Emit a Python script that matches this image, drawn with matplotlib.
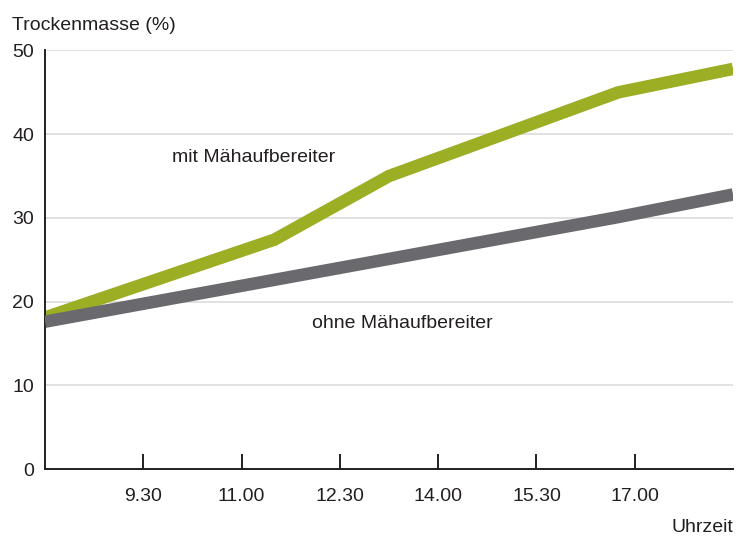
import matplotlib
matplotlib.use("Agg")
import matplotlib.pyplot as plt

# time of day in hours (9.30 -> 9.5)
hours_mit = [8.0, 11.5, 13.25, 16.75, 18.5]
mit = [18.1, 27.4, 35.0, 45.0, 47.8]

hours_ohne = [8.0, 11.5, 13.25, 16.75, 18.5]
ohne = [17.6, 22.6, 25.1, 30.1, 32.8]

tick_hours = [9.5, 11.0, 12.5, 14.0, 15.5, 17.0]
tick_labels = ["9.30", "11.00", "12.30", "14.00", "15.30", "17.00"]
y_ticks = [0, 10, 20, 30, 40, 50]

GREEN = "#9bae24"
GREY = "#6a6a6e"
TEXT = "#231f20"

plt.rcParams["font.family"] = ["Liberation Sans", "DejaVu Sans"]

fig = plt.figure(figsize=(7.48, 5.37), dpi=100)
ax = fig.add_axes([0.0602, 0.1266, 0.9198, 0.7794])

for y in y_ticks[1:]:
    ax.axhline(y, color="#dcdcdc", lw=1.2, zorder=1)

ax.plot(hours_ohne, ohne, color=GREY, lw=9, solid_joinstyle="miter",
        solid_capstyle="butt", zorder=3)
ax.plot(hours_mit, mit, color=GREEN, lw=9, solid_joinstyle="miter",
        solid_capstyle="butt", zorder=2)

ax.set_xlim(8.0, 18.5)
ax.set_ylim(0, 50)
ax.set_xticks(tick_hours)
ax.set_xticklabels(tick_labels)
ax.set_yticks(y_ticks)

for s in ("top", "right"):
    ax.spines[s].set_visible(False)
for s in ("left", "bottom"):
    ax.spines[s].set_linewidth(1.4)
    ax.spines[s].set_color(TEXT)

ax.tick_params(axis="x", direction="in", length=11, width=1.4, color=TEXT,
               labelsize=14, labelcolor=TEXT, pad=14)
ax.tick_params(axis="y", length=0, labelsize=14, labelcolor=TEXT, pad=8)

fig.text(172 / 748, 1 - 157 / 537, "mit Mähaufbereiter", fontsize=14,
         color=TEXT, va="center", ha="left")
fig.text(12 / 748, 1 - 25 / 537, "Trockenmasse (%)", fontsize=14,
         color=TEXT, va="center", ha="left")
fig.text(733 / 748, 1 - 527 / 537, "Uhrzeit", fontsize=14,
         color=TEXT, va="center", ha="right")
fig.text(312 / 748, 1 - 323 / 537, "ohne Mähaufbereiter", fontsize=14,
         color=TEXT, va="center", ha="left")

fig.savefig("out.png", dpi=100)
